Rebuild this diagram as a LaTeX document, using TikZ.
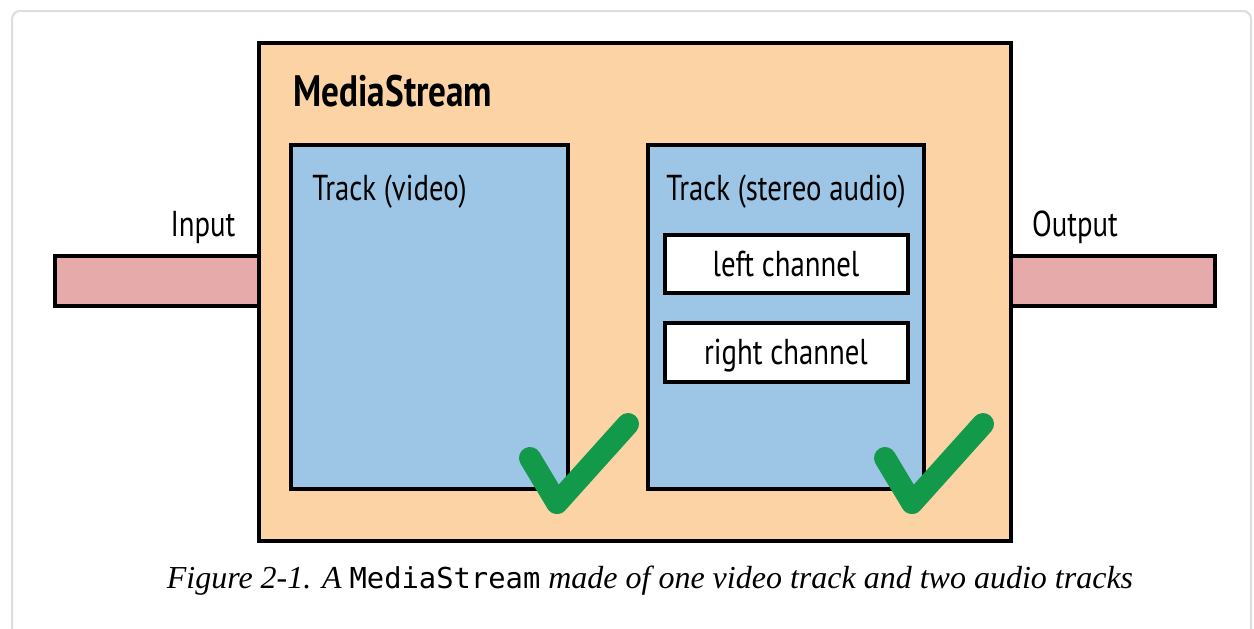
\documentclass[tikz,border=0pt]{standalone}
\usepackage{fontspec}
\setmainfont{Liberation Serif}
\newfontfamily\labelfont[FakeStretch=0.8]{PT Sans}
\newfontfamily\codefont[Scale=0.9]{DejaVu Sans Mono}
\usetikzlibrary{fit}

\definecolor{streamfill}{HTML}{FBD3A5}
\definecolor{trackfill}{HTML}{9DC5E5}
\definecolor{pipefill}{HTML}{E6AAAA}
\definecolor{tickgreen}{HTML}{12994A}
\definecolor{framegray}{HTML}{DDDDDD}

\tikzset{
    box/.style={draw=black, line width=2pt, inner sep=0pt},
    streambox/.style={box, fill=streamfill},
    trackbox/.style={box, fill=trackfill},
    chanbox/.style={box, line width=1.7pt, fill=white},
    pipebox/.style={box, fill=pipefill},
    lbl/.style={font=\labelfont\fontsize{18}{18}\selectfont, inner sep=0pt},
    tick/.style={draw=tickgreen, line width=11pt, line cap=round, line join=round}
}

\begin{document}
\begin{tikzpicture}[x=0.5pt, y=-0.5pt]
            \clip (0,0) rectangle (1254,628);
            \useasboundingbox (0,0) rectangle (1254,628);
            \draw [framegray, line width=1pt, rounded corners=4pt] (12,11) rectangle (1251,700);

            \node (inpipe) [pipebox, fit={(55,256) (259,306)}] {};
            \node (outpipe) [pipebox, fit={(1011,256) (1215,306)}] {};
            \node (stream) [streambox, fit={(259,43) (1011,541)}] {};
            \node (video) [trackbox, fit={(291,145) (568,489)}] {};
            \node (audio) [trackbox, fit={(648,145) (924,489)}] {};
            \node (left) [chanbox, fit={(665,235) (908,293)}] {};
            \node (right) [chanbox, fit={(665,323) (908,382)}] {};

            \node (title) at (293,106) [lbl, anchor=base west, font=\labelfont\bfseries\fontsize{22}{22}\selectfont] {MediaStream};
            \node (videolbl) at (312,200) [lbl, anchor=base west] {Track (video)};
            \node (audiolbl) at (786,200) [lbl, anchor=base] {Track (stereo audio)};
            \node (leftlbl) at (786,276) [lbl, anchor=base] {left channel};
            \node (rightlbl) at (786,364) [lbl, anchor=base] {right channel};
            \node (inlbl) at (203,236) [lbl, anchor=base] {Input};
            \node (outlbl) at (1075,236) [lbl, anchor=base] {Output};

            \foreach \d in {0, 355}
                {
                    \draw [tick] (530+\d,458) -- (557+\d,503) -- (628+\d,424);
                }

            \node (caption) at (650,588) [anchor=base, inner sep=0pt, font=\fontsize{16}{16}\selectfont]
                {\itshape Figure 2-1. A {\upshape\codefont MediaStream} made of one video track and two audio tracks};
        \end{tikzpicture}
\end{document}
